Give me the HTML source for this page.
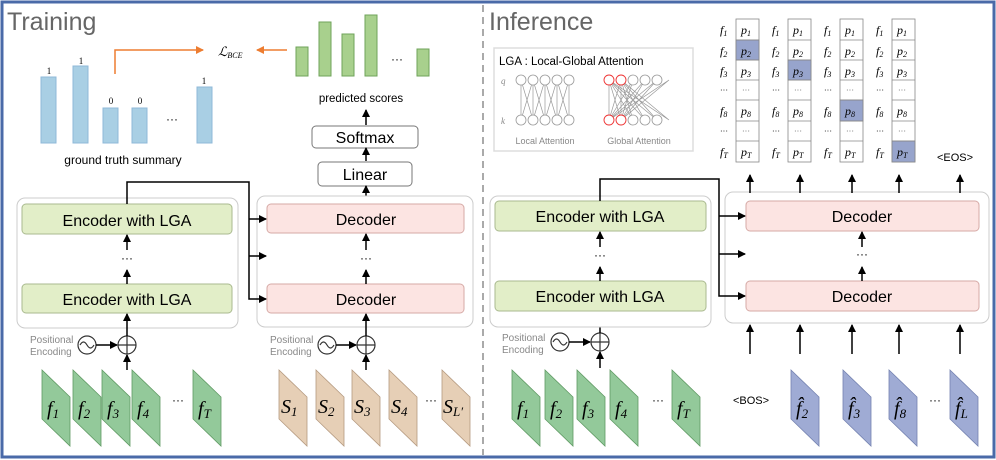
<!DOCTYPE html>
<html><head><meta charset="utf-8"><style>
html,body{margin:0;padding:0;background:#fff}
svg{display:block}
text{font-family:"Liberation Sans",sans-serif}
.m, .m text, .m tspan{font-family:"Liberation Serif",serif;font-style:italic}
</style></head><body>
<svg width="996" height="460" viewBox="0 0 996 460" xmlns="http://www.w3.org/2000/svg">
<defs>
<marker id="a" markerWidth="8" markerHeight="8" refX="7" refY="4" orient="auto" markerUnits="userSpaceOnUse"><path d="M0,0 L8,4 L0,8 z" fill="#000"/></marker>
<marker id="o" markerWidth="8" markerHeight="8" refX="7" refY="4" orient="auto" markerUnits="userSpaceOnUse"><path d="M0,0 L8,4 L0,8 z" fill="#ed7d31"/></marker>
<g id="pg"><path d="M0,0 L28,27 L28,76 L0,49 z"/></g>
</defs>
<rect x="2" y="2" width="992" height="455" fill="#fff" stroke="#4a6aa8" stroke-width="3"/>
<line x1="483" y1="5" x2="483" y2="455" stroke="#aaa" stroke-width="2" stroke-dasharray="7,5"/>
<text x="7" y="30" font-size="25" fill="#666">Training</text>
<text x="489" y="30" font-size="25" fill="#666">Inference</text>

<g fill="#a9cfe4" stroke="#8fb8d8">
<rect x="41" y="77" width="15" height="66"/><rect x="73" y="66" width="15" height="77"/>
<rect x="103" y="108" width="15" height="35"/><rect x="132" y="108" width="15" height="35"/>
<rect x="197" y="87" width="15" height="56"/></g>
<g font-size="9" text-anchor="middle"><text x="49" y="74" style="font-family:'Liberation Serif',serif">1</text><text x="81" y="64" style="font-family:'Liberation Serif',serif">1</text><text x="111" y="104" style="font-family:'Liberation Serif',serif">0</text><text x="140" y="104" style="font-family:'Liberation Serif',serif">0</text><text x="204" y="84" style="font-family:'Liberation Serif',serif">1</text></g>
<text x="172" y="123" font-size="12" text-anchor="middle">···</text>
<text x="123" y="164" font-size="12" text-anchor="middle">ground truth summary</text>
<polyline points="115,74 115,50 203,50" fill="none" stroke="#ed7d31" stroke-width="1.5" marker-end="url(#o)"/>
<line x1="287" y1="50" x2="257" y2="50" stroke="#ed7d31" stroke-width="1.5" marker-end="url(#o)"/>
<text x="218" y="56" class="m" font-size="13">ℒ<tspan font-size="8" dy="2">BCE</tspan></text>
<g fill="#a8d08d" stroke="#6fa35a">
<rect x="296" y="47" width="12" height="29"/><rect x="319" y="22" width="12" height="54"/>
<rect x="342" y="34" width="12" height="42"/><rect x="365" y="15" width="12" height="61"/>
<rect x="417" y="49" width="12" height="27"/></g>
<text x="397" y="63" font-size="12" text-anchor="middle">···</text>
<text x="361" y="102" font-size="11.5" text-anchor="middle">predicted scores</text>
<line x1="366" y1="125" x2="366" y2="110" stroke="#000" stroke-width="1.5" marker-end="url(#a)"/>
<rect x="312" y="126" width="106" height="22" rx="4" fill="#fff" stroke="#777"/>
<text x="365" y="143" font-size="16" text-anchor="middle">Softmax</text>
<line x1="366" y1="161" x2="366" y2="148" stroke="#000" stroke-width="1.5" marker-end="url(#a)"/>
<rect x="318" y="162" width="94" height="24" rx="4" fill="#fff" stroke="#777"/>
<text x="365" y="180" font-size="16" text-anchor="middle">Linear</text>
<line x1="366" y1="204" x2="366" y2="186" stroke="#000" stroke-width="1.5" marker-end="url(#a)"/>

<rect x="17" y="198" width="221" height="130" rx="8" fill="#fff" stroke="#ccc"/>
<rect x="22" y="204" width="210" height="30" rx="4" fill="#e2eec8" stroke="#a9b98f"/>
<rect x="22" y="284" width="210" height="29" rx="4" fill="#e2eec8" stroke="#a9b98f"/>
<text x="127" y="226" font-size="16" text-anchor="middle">Encoder with LGA</text>
<text x="127" y="305" font-size="16" text-anchor="middle">Encoder with LGA</text>
<text x="127" y="262" font-size="12" text-anchor="middle">···</text>
<line x1="127" y1="250" x2="127" y2="235" stroke="#000" stroke-width="1.5" marker-end="url(#a)"/>
<line x1="127" y1="284" x2="127" y2="270" stroke="#000" stroke-width="1.5" marker-end="url(#a)"/>
<rect x="257" y="196" width="216" height="131" rx="8" fill="#fff" stroke="#ccc"/>
<rect x="267" y="204" width="197" height="29" rx="4" fill="#fce4e2" stroke="#d6aaa6"/>
<rect x="267" y="284" width="197" height="29" rx="4" fill="#fce4e2" stroke="#d6aaa6"/>
<text x="366" y="225" font-size="16" text-anchor="middle">Decoder</text>
<text x="366" y="305" font-size="16" text-anchor="middle">Decoder</text>
<text x="366" y="262" font-size="12" text-anchor="middle">···</text>
<line x1="366" y1="250" x2="366" y2="234" stroke="#000" stroke-width="1.5" marker-end="url(#a)"/>
<line x1="366" y1="284" x2="366" y2="270" stroke="#000" stroke-width="1.5" marker-end="url(#a)"/>
<polyline points="127,204 127,182 249,182 249,299 266,299" fill="none" stroke="#000" stroke-width="1.5" marker-end="url(#a)"/>
<line x1="249" y1="219" x2="266" y2="219" stroke="#000" stroke-width="1.5" marker-end="url(#a)"/>
<line x1="249" y1="256" x2="266" y2="256" stroke="#000" stroke-width="1.5" marker-end="url(#a)"/>

<g font-size="10" fill="#888"><text x="30" y="343">Positional</text><text x="30" y="355">Encoding</text>
<text x="270" y="343">Positional</text><text x="270" y="355">Encoding</text>
<text x="502" y="341">Positional</text><text x="502" y="353">Encoding</text></g>
<g fill="none" stroke="#333" stroke-width="1.2">
<circle cx="87" cy="345" r="9"/><path d="M80,345 q3.5,-6 7,0 t7,0"/>
<circle cx="127" cy="345" r="9"/><path d="M118,345 h18 M127,336 v18"/>
<circle cx="327" cy="345" r="9"/><path d="M320,345 q3.5,-6 7,0 t7,0"/>
<circle cx="366" cy="345" r="9"/><path d="M357,345 h18 M366,336 v18"/>
<circle cx="560" cy="342" r="9"/><path d="M553,342 q3.5,-6 7,0 t7,0"/>
<circle cx="600" cy="342" r="9"/><path d="M591,342 h18 M600,333 v18"/>
</g>
<g stroke="#000" stroke-width="1.5">
<line x1="96" y1="345" x2="117" y2="345" marker-end="url(#a)"/>
<line x1="127" y1="370" x2="127" y2="355" marker-end="url(#a)"/>
<line x1="127" y1="336" x2="127" y2="314" marker-end="url(#a)"/>
<line x1="336" y1="345" x2="356" y2="345" marker-end="url(#a)"/>
<line x1="366" y1="370" x2="366" y2="355" marker-end="url(#a)"/>
<line x1="366" y1="336" x2="366" y2="314" marker-end="url(#a)"/>
<line x1="569" y1="342" x2="590" y2="342" marker-end="url(#a)"/>
<line x1="600" y1="368" x2="600" y2="352" marker-end="url(#a)"/>
<line x1="600" y1="333" x2="600" y2="312" marker-end="url(#a)"/>
</g>

<g fill="#93c99a" stroke="#5f9a63" stroke-width="0.8">
<use href="#pg" x="42" y="370"/><use href="#pg" x="73" y="370"/><use href="#pg" x="102" y="370"/><use href="#pg" x="132" y="370"/><use href="#pg" x="193" y="370"/>
<use href="#pg" x="512" y="370"/><use href="#pg" x="545" y="370"/><use href="#pg" x="577" y="370"/><use href="#pg" x="610" y="370"/><use href="#pg" x="672" y="370"/>
</g>
<g fill="#e6cfb6" stroke="#b59a80" stroke-width="0.8">
<use href="#pg" x="279" y="370"/><use href="#pg" x="316" y="370"/><use href="#pg" x="352" y="370"/><use href="#pg" x="389" y="370"/><use href="#pg" x="442" y="370"/>
</g>
<g fill="#9fabd4" stroke="#7482b0" stroke-width="0.8">
<use href="#pg" x="791" y="370"/><use href="#pg" x="843" y="370"/><use href="#pg" x="889" y="370"/><use href="#pg" x="950" y="370"/>
</g>
<g class="m" font-size="20" fill="#000">
<text x="47" y="415">f<tspan font-size="13" dy="3">1</tspan></text>
<text x="78" y="415">f<tspan font-size="13" dy="3">2</tspan></text>
<text x="107" y="415">f<tspan font-size="13" dy="3">3</tspan></text>
<text x="137" y="415">f<tspan font-size="13" dy="3">4</tspan></text>
<text x="198" y="415">f<tspan font-size="13" dy="3">T</tspan></text>
<text x="517" y="415">f<tspan font-size="13" dy="3">1</tspan></text>
<text x="550" y="415">f<tspan font-size="13" dy="3">2</tspan></text>
<text x="582" y="415">f<tspan font-size="13" dy="3">3</tspan></text>
<text x="615" y="415">f<tspan font-size="13" dy="3">4</tspan></text>
<text x="677" y="415">f<tspan font-size="13" dy="3">T</tspan></text>
<text x="281" y="413">S<tspan font-size="13" dy="3">1</tspan></text>
<text x="318" y="413">S<tspan font-size="13" dy="3">2</tspan></text>
<text x="354" y="413">S<tspan font-size="13" dy="3">3</tspan></text>
<text x="391" y="413">S<tspan font-size="13" dy="3">4</tspan></text>
<text x="443" y="413">S<tspan font-size="13" dy="3">L′</tspan></text>
<text x="796" y="415">f̂<tspan font-size="13" dy="3">2</tspan></text>
<text x="848" y="415">f̂<tspan font-size="13" dy="3">3</tspan></text>
<text x="894" y="415">f̂<tspan font-size="13" dy="3">8</tspan></text>
<text x="955" y="415">f̂<tspan font-size="13" dy="3">L</tspan></text>
</g>
<g font-size="12" text-anchor="middle"><text x="178" y="404">···</text><text x="431" y="404">···</text><text x="658" y="404">···</text><text x="935" y="404">···</text></g>
<text x="751" y="404" font-size="11" text-anchor="middle">&lt;BOS&gt;</text>

<rect x="494" y="48" width="199" height="103" fill="#fff" stroke="#ddd" stroke-width="1.5"/>
<text x="499" y="65" font-size="11.5">LGA : Local-Global Attention</text>
<text x="501" y="84" class="m" font-size="9" fill="#888">q</text>
<text x="501" y="124" class="m" font-size="9" fill="#888">k</text>
<g stroke="#999" stroke-width="0.7">
<path d="M521,80 V120 M533,80 V120 M545,80 V120 M557,80 V120 M569,80 V120 M521,80 L533,120 M533,80 L521,120 M533,80 L545,120 M545,80 L533,120 M545,80 L557,120 M557,80 L545,120 M557,80 L569,120 M569,80 L557,120"/>
<path d="M609,80 V120 M621,80 V120 M609,80 L621,120 M621,80 L609,120 M609,80 L633,120 M609,80 L645,120 M609,80 L657,120 M609,80 L669,120 M621,80 L633,120 M621,80 L645,120 M621,80 L657,120 M621,80 L669,120 M633,80 L609,120 M645,80 L609,120 M657,80 L609,120 M669,80 L609,120 M633,80 L621,120 M645,80 L621,120 M657,80 L621,120 M669,80 L621,120"/>
</g>
<g fill="#fff" stroke="#999" stroke-width="0.8">
<circle cx="521" cy="80" r="5"/><circle cx="533" cy="80" r="5"/><circle cx="545" cy="80" r="5"/><circle cx="557" cy="80" r="5"/><circle cx="569" cy="80" r="5"/>
<circle cx="521" cy="120" r="5"/><circle cx="533" cy="120" r="5"/><circle cx="545" cy="120" r="5"/><circle cx="557" cy="120" r="5"/><circle cx="569" cy="120" r="5"/>
<circle cx="633" cy="80" r="5"/><circle cx="645" cy="80" r="5"/><circle cx="657" cy="80" r="5"/>
<circle cx="633" cy="120" r="5"/><circle cx="645" cy="120" r="5"/><circle cx="657" cy="120" r="5"/>
</g>
<g fill="#fff" stroke="#e33" stroke-width="0.9">
<circle cx="609" cy="80" r="5"/><circle cx="621" cy="80" r="5"/><circle cx="609" cy="120" r="5"/><circle cx="621" cy="120" r="5"/>
</g>
<g font-size="9" fill="#888" text-anchor="middle"><text x="545" y="144">Local Attention</text><text x="639" y="144">Global Attention</text></g>

<g stroke="#888" stroke-width="0.8" fill="#fff">
<rect x="736" y="19" width="23" height="143"/><rect x="788" y="19" width="23" height="143"/><rect x="840" y="19" width="23" height="143"/><rect x="892" y="19" width="23" height="143"/>
</g>
<g fill="#97a4cc" stroke="#888" stroke-width="0.8">
<rect x="736" y="40" width="23" height="20"/><rect x="788" y="60" width="23" height="20"/><rect x="840" y="100" width="23" height="21"/><rect x="892" y="141" width="23" height="21"/>
</g>
<g stroke="#888" stroke-width="0.8">
<path d="M736,40h23M736,60h23M736,80h23M736,100h23M736,121h23M736,141h23"/>
<path d="M788,40h23M788,60h23M788,80h23M788,100h23M788,121h23M788,141h23"/>
<path d="M840,40h23M840,60h23M840,80h23M840,100h23M840,121h23M840,141h23"/>
<path d="M892,40h23M892,60h23M892,80h23M892,100h23M892,121h23M892,141h23"/>
</g>
<g class="m" font-size="12">
<g id="col">
<text x="720" y="34">f<tspan font-size="8" dy="2">1</tspan></text><text x="741" y="34">p<tspan font-size="8" dy="2">1</tspan></text>
<text x="720" y="55">f<tspan font-size="8" dy="2">2</tspan></text><text x="741" y="55">p<tspan font-size="8" dy="2">2</tspan></text>
<text x="720" y="75">f<tspan font-size="8" dy="2">3</tspan></text><text x="741" y="75">p<tspan font-size="8" dy="2">3</tspan></text>
<text x="720" y="93" font-size="8" style="font-style:normal">···</text><text x="742" y="93" font-size="8" style="font-style:normal" fill="#666">···</text>
<text x="720" y="115">f<tspan font-size="8" dy="2">8</tspan></text><text x="741" y="115">p<tspan font-size="8" dy="2">8</tspan></text>
<text x="720" y="134" font-size="8" style="font-style:normal">···</text><text x="742" y="134" font-size="8" style="font-style:normal" fill="#666">···</text>
<text x="720" y="156">f<tspan font-size="8" dy="2">T</tspan></text><text x="741" y="156">p<tspan font-size="8" dy="2">T</tspan></text>
</g>
<use href="#col" x="52"/><use href="#col" x="104"/><use href="#col" x="156"/>
</g>
<text x="955" y="161" font-size="11" text-anchor="middle">&lt;EOS&gt;</text>

<rect x="490" y="196" width="221" height="131" rx="8" fill="#fff" stroke="#ccc"/>
<rect x="495" y="201" width="211" height="30" rx="4" fill="#e2eec8" stroke="#a9b98f"/>
<rect x="495" y="281" width="211" height="30" rx="4" fill="#e2eec8" stroke="#a9b98f"/>
<text x="600" y="222" font-size="16" text-anchor="middle">Encoder with LGA</text>
<text x="600" y="302" font-size="16" text-anchor="middle">Encoder with LGA</text>
<text x="600" y="259" font-size="12" text-anchor="middle">···</text>
<line x1="600" y1="247" x2="600" y2="232" stroke="#000" stroke-width="1.5" marker-end="url(#a)"/>
<line x1="600" y1="281" x2="600" y2="267" stroke="#000" stroke-width="1.5" marker-end="url(#a)"/>
<rect x="725" y="192" width="264" height="131" rx="8" fill="#fff" stroke="#ccc"/>
<rect x="746" y="201" width="233" height="30" rx="4" fill="#fce4e2" stroke="#d6aaa6"/>
<rect x="746" y="281" width="233" height="30" rx="4" fill="#fce4e2" stroke="#d6aaa6"/>
<text x="862" y="222" font-size="16" text-anchor="middle">Decoder</text>
<text x="862" y="302" font-size="16" text-anchor="middle">Decoder</text>
<text x="862" y="258" font-size="12" text-anchor="middle">···</text>
<line x1="862" y1="247" x2="862" y2="232" stroke="#000" stroke-width="1.5" marker-end="url(#a)"/>
<line x1="862" y1="281" x2="862" y2="267" stroke="#000" stroke-width="1.5" marker-end="url(#a)"/>
<polyline points="600,201 600,179 719,179 719,296 745,296" fill="none" stroke="#000" stroke-width="1.5" marker-end="url(#a)"/>
<line x1="719" y1="216" x2="745" y2="216" stroke="#000" stroke-width="1.5" marker-end="url(#a)"/>
<line x1="719" y1="254" x2="745" y2="254" stroke="#000" stroke-width="1.5" marker-end="url(#a)"/>
<g stroke="#000" stroke-width="1.5">
<line x1="750" y1="193" x2="750" y2="175" marker-end="url(#a)"/><line x1="800" y1="193" x2="800" y2="175" marker-end="url(#a)"/><line x1="852" y1="193" x2="852" y2="175" marker-end="url(#a)"/><line x1="899" y1="193" x2="899" y2="175" marker-end="url(#a)"/><line x1="960" y1="193" x2="960" y2="175" marker-end="url(#a)"/>
<line x1="750" y1="354" x2="750" y2="325" marker-end="url(#a)"/><line x1="800" y1="354" x2="800" y2="325" marker-end="url(#a)"/><line x1="852" y1="354" x2="852" y2="325" marker-end="url(#a)"/><line x1="899" y1="354" x2="899" y2="325" marker-end="url(#a)"/><line x1="960" y1="354" x2="960" y2="325" marker-end="url(#a)"/>
</g>
</svg>
</body></html>
